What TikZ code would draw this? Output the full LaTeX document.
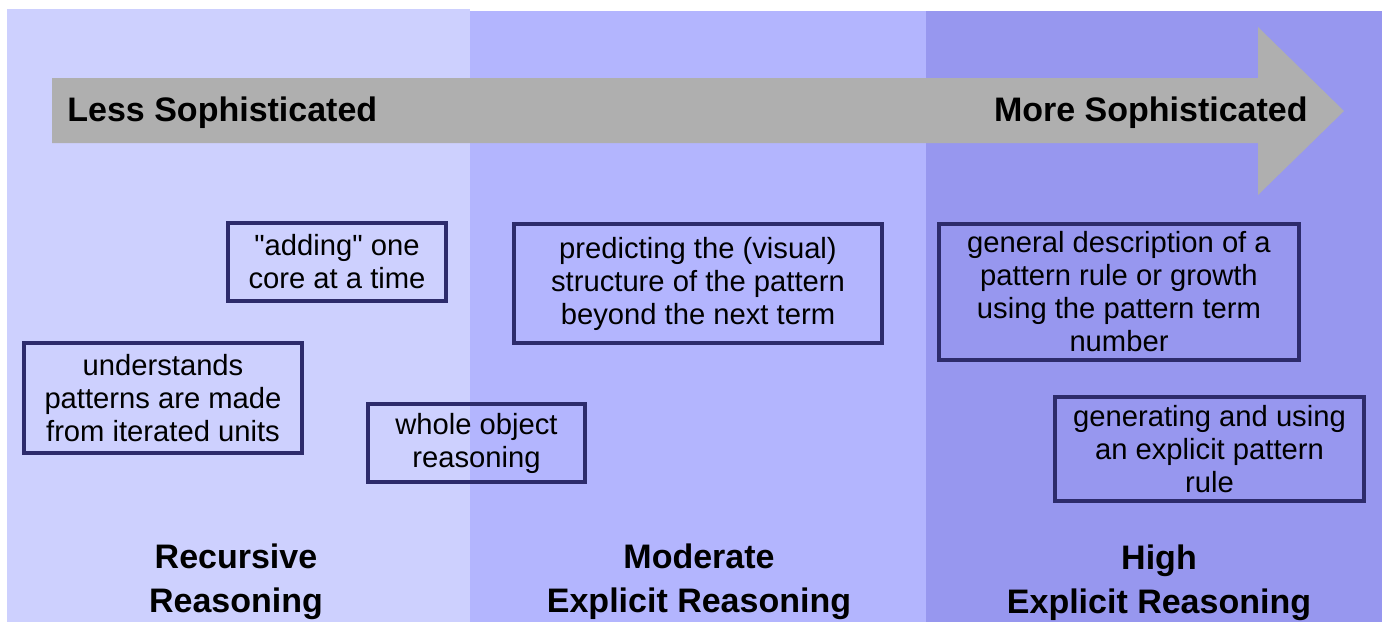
\documentclass[tikz,border=0pt]{standalone}
\usepackage{fontspec}
\setmainfont{Liberation Sans}
\newfontfamily\boxfont{Liberation Sans}
\definecolor{LevelLow}{HTML}{CDD0FE}
\definecolor{LevelMid}{HTML}{B3B5FE}
\definecolor{LevelHigh}{HTML}{9797EF}
\definecolor{ArrowGray}{HTML}{AFAFAF}
\definecolor{BoxNavy}{HTML}{2D2B6B}
\tikzset{
  skillbox/.style={draw=BoxNavy, line width=2pt, rectangle, align=center, inner sep=0pt,
    font=\boxfont\fontsize{14.6}{16.5}\selectfont},
  levelname/.style={align=center, inner sep=0pt, font=\bfseries\fontsize{17}{22}\selectfont},
  arrowtext/.style={inner sep=0pt, font=\bfseries\fontsize{17}{20}\selectfont},
}
\newcommand{\drawskill}{\node[skillbox]}
\newcommand{\drawlevel}{\node[levelname]}

\begin{document}
\begin{tikzpicture}[x=0.5pt, y=-0.5pt]
\useasboundingbox (0,0) rectangle (1383,622);
%three bands, lightest on the left
\fill[LevelLow] (7,9) rectangle (470,622);
\fill[LevelMid] (470,11) rectangle (926,622);
\fill[LevelHigh] (926,11) rectangle (1382,622);

%grey arrow across the top
\fill[ArrowGray] (52,78) -- (1258,78) -- (1258,27) -- (1344,111)
  -- (1258,195) -- (1258,143) -- (52,143) -- cycle;
\node[arrowtext, anchor=base west] (less) at (67,121) {Less Sophisticated};
\node[arrowtext, anchor=base east] (more) at (1308,121) {More Sophisticated};

%skills
\drawskill[minimum width=109pt, minimum height=39pt] (adding) at (337,262) {"adding" one\\core at a time};
\drawskill[minimum width=184pt, minimum height=59.5pt] (predicting) at (698,283.5) {predicting the (visual)\\structure of the pattern\\beyond the next term};
\drawskill[minimum width=180pt, minimum height=68pt] (general) at (1119,292) {general description of a\\pattern rule or growth\\using the pattern term\\number};
\drawskill[minimum width=139pt, minimum height=55pt] (iterated) at (163,398) {understands\\patterns are made\\from iterated units};
\drawskill[minimum width=108.5pt, minimum height=39pt] (whole) at (476.5,443) {whole object\\reasoning};
\drawskill[minimum width=154.5pt, minimum height=52pt] (explicit) at (1209.5,449) {generating and using\\an explicit pattern\\rule};

%level names at the bottom
\drawlevel (recursive) at (236,582) {Recursive\\Reasoning};
\drawlevel (moderate) at (699,582) {Moderate\\Explicit Reasoning};
\drawlevel (high) at (1159,583) {High\\Explicit Reasoning};

\end{tikzpicture}
\end{document}
